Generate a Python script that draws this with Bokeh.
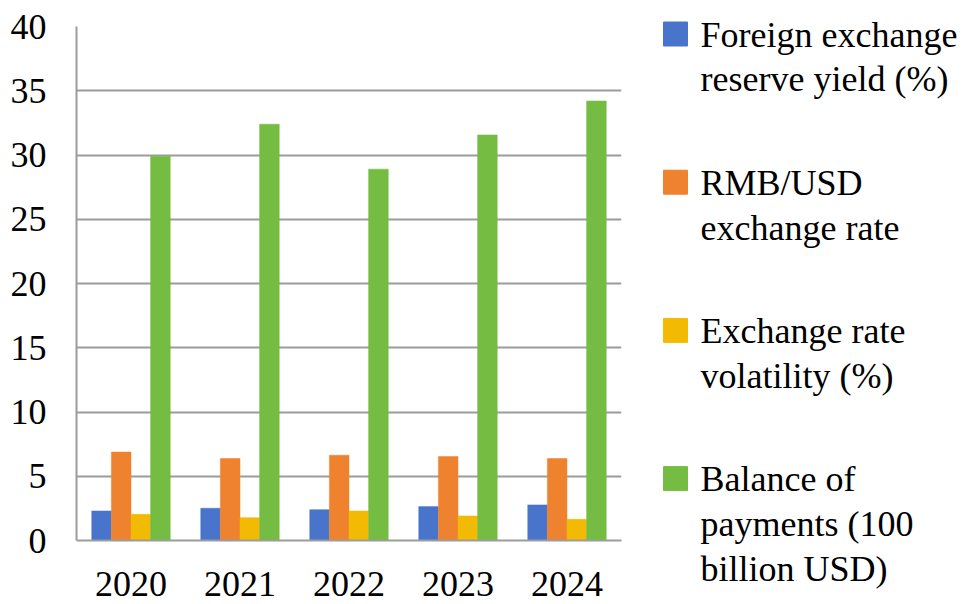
from bokeh.plotting import figure
from bokeh.models import FactorRange, FixedTicker, Range1d, ColumnDataSource
from bokeh.transform import dodge
from bokeh.layouts import row
from bokeh.core.properties import value
from bokeh.embed import file_html
from bokeh.resources import INLINE

years = ["2020", "2021", "2022", "2023", "2024"]
reserve_yield = [2.30, 2.51, 2.40, 2.64, 2.77]
rmb_usd = [6.88, 6.38, 6.64, 6.54, 6.38]
volatility = [2.04, 1.78, 2.30, 1.91, 1.65]
balance_of_payments = [29.9, 32.4, 28.9, 31.56, 34.2]
y_ticks = [0, 5, 10, 15, 20, 25, 30, 35, 40]

series_labels = [
    ["Foreign exchange", "reserve yield (%)"],
    ["RMB/USD", "exchange rate"],
    ["Exchange rate", "volatility (%)"],
    ["Balance of", "payments (100", "billion USD)"],
]
colors = ["#4874CB", "#EE822F", "#F2BA02", "#75BD42"]

source = ColumnDataSource(dict(
    years=years, s0=reserve_yield, s1=rmb_usd, s2=volatility, s3=balance_of_payments,
))

FONT = "Liberation Serif"
FONT_SIZE = "36px"
GRID = "#9c9c9c"
H = 604

# ---------------- main chart ----------------
p = figure(
    x_range=FactorRange(*years), y_range=(0, 40),
    width=631, height=H,
    min_border_left=76, min_border_right=10, min_border_top=26, min_border_bottom=64,
    output_backend="svg", toolbar_location=None,
)
p.frame_align = False

offsets = [-0.27, -0.09, 0.09, 0.27]
for i, (off, c) in enumerate(zip(offsets, colors)):
    p.vbar(x=dodge("years", off, range=p.x_range), top=f"s{i}", width=0.18,
           source=source, fill_color=c, line_color=c, line_width=0.5)

p.outline_line_color = None
p.xgrid.grid_line_color = None
p.ygrid.grid_line_color = GRID
p.ygrid.grid_line_width = 2
p.yaxis.ticker = FixedTicker(ticks=y_ticks)

for ax in (p.xaxis, p.yaxis):
    ax.axis_line_color = GRID
    ax.axis_line_width = 2
    ax.major_tick_line_color = None
    ax.minor_tick_line_color = None
    ax.major_label_text_font = FONT
    ax.major_label_text_font_size = FONT_SIZE
    ax.major_label_text_color = "black"

p.yaxis.major_label_standoff = 24
p.xaxis.major_label_standoff = 25

# ---------------- legend panel ----------------
LW = 332
leg = figure(
    width=LW, height=H, x_range=Range1d(0, LW), y_range=Range1d(H, 0),
    min_border_left=0, min_border_right=0, min_border_top=0, min_border_bottom=0,
    x_axis_type=None, y_axis_type=None,
    output_backend="svg", toolbar_location=None,
)
leg.frame_align = False
leg.outline_line_color = None
leg.xgrid.grid_line_color = None
leg.ygrid.grid_line_color = None

ITEM_STEP = 148.2      # vertical distance between legend entries (px)
LINE_STEP = 44.8       # line spacing inside an entry (px)
FIRST_BASE = 46.0      # baseline of the first line of the first entry (px)
MID_SHIFT = 12.0       # baseline -> text middle (px)
SQ = 24                # swatch size (px)
SQ_X = 44.0            # swatch centre x (px)
TXT_X = 69             # text left x (px)

sw = dict(x=[], y=[], color=[])
tx = dict(x=[], y=[], text=[])
for i, (lines, c) in enumerate(zip(series_labels, colors)):
    base = FIRST_BASE + i * ITEM_STEP
    sw["x"].append(SQ_X)
    sw["y"].append(base - SQ / 2 - 0.5)
    sw["color"].append(c)
    for j, line in enumerate(lines):
        tx["x"].append(TXT_X)
        tx["y"].append(base + j * LINE_STEP - MID_SHIFT)
        tx["text"].append(line)

leg.rect(x="x", y="y", width=SQ, height=SQ, fill_color="color", line_color="color",
         source=ColumnDataSource(sw))
leg.text(x="x", y="y", text="text", source=ColumnDataSource(tx),
         text_font=value(FONT), text_font_size=FONT_SIZE, text_color="black",
         text_align="left", text_baseline="middle")

layout = row(p, leg, spacing=0)
open("out.html", "w").write(file_html(layout, INLINE))
